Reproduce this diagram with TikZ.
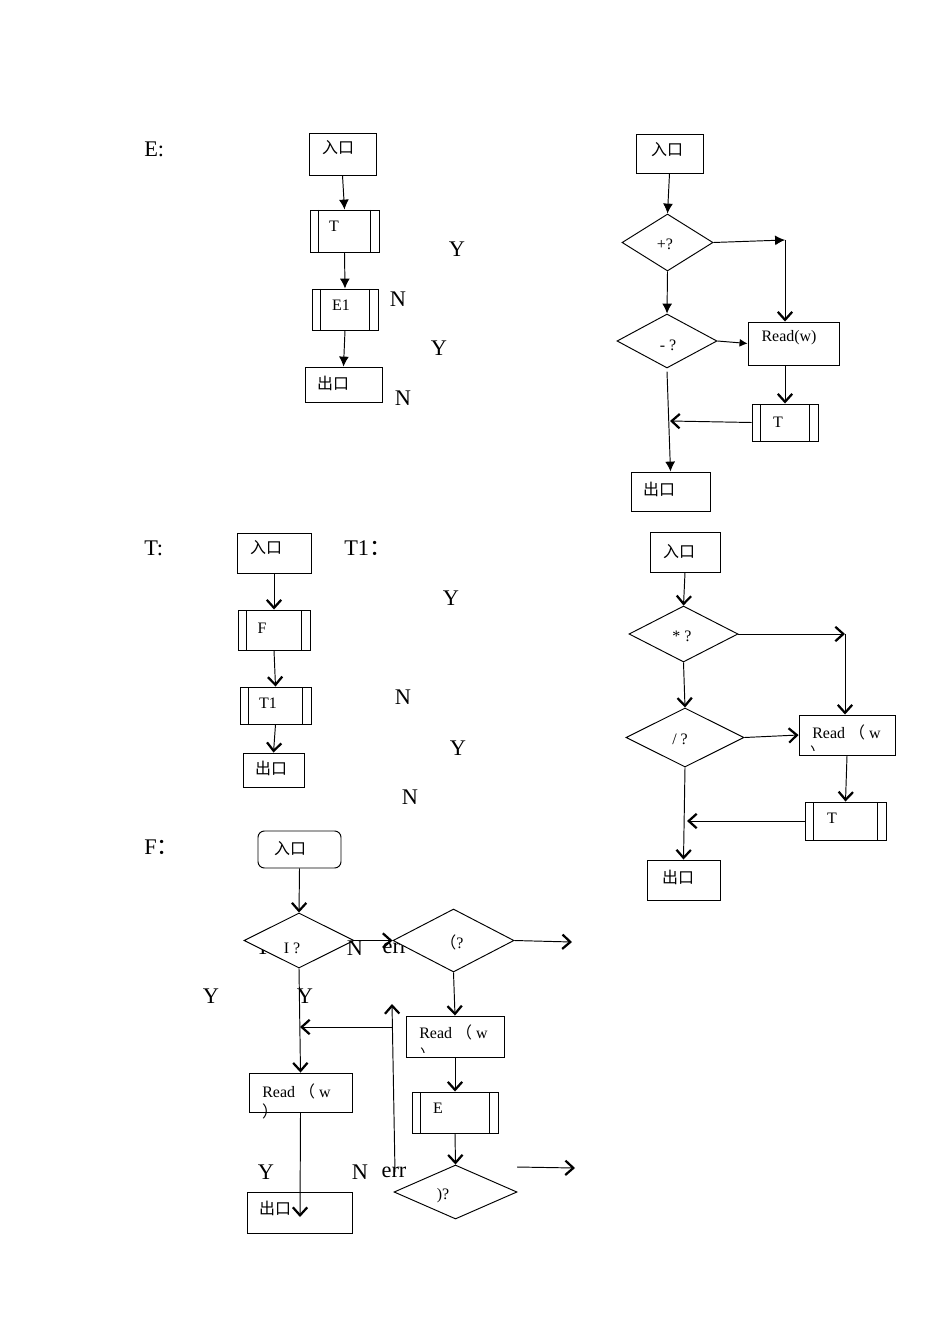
\documentclass[tikz,border=0pt]{standalone}
\usepackage{fontspec}
\setmainfont{Liberation Serif}
\newfontfamily\cjk{Noto Sans CJK SC}
\usetikzlibrary{arrows.meta,shapes.geometric,fit}
\tikzset{
  bx/.style={draw, line width=0.6pt, inner sep=0pt, fill=white},
  subbox/.style={bx, path picture={\draw[line width=0.6pt]
     ([xshift=5.3pt]path picture bounding box.north west) -- ([xshift=5.3pt]path picture bounding box.south west)
     ([xshift=-5.3pt]path picture bounding box.north east) -- ([xshift=-5.3pt]path picture bounding box.south east);}},
  dia/.style 2 args={diamond, draw, line width=0.6pt, fill=white, inner sep=0pt,
     minimum width=#1*0.6265pt, minimum height=#2*0.6265pt},
  txt/.style={inner sep=0pt, font=\fontsize{10}{12}\selectfont},
  big/.style={inner sep=0pt, font=\fontsize{14}{16}\selectfont},
  fa/.style={-{Latex[length=6.2pt,width=6.2pt]}, line width=0.6pt},
  oa/.style={-{Straight Barb[length=5pt,width=9pt,line width=1.4pt]}, line width=0.6pt},
}
\begin{document}
\begin{tikzpicture}[x=0.6265pt, y=-0.6265pt]
\useasboundingbox (0,0) rectangle (950,1344);
\fill[white] (0,0) rectangle (950,1344);

% ---------- free labels (drawn first, shapes may cover them) ----------
\node[big, anchor=west] (lE) at (144,149) {E:};
\node[big] (lE1) at (457,249) {Y};
\node[big] (lE2) at (398,299) {N};
\node[big] (lE3) at (439,348) {Y};
\node[big] (lE4) at (403,398) {N};

\node[big, anchor=west] (lT) at (144,548) {T:};
\node[big, anchor=west] (lT1) at (344,548) {T1{\cjk ：}};
\node[big] (lT1a) at (451,598) {Y};
\node[big] (lT1b) at (403,697) {N};
\node[big] (lT1c) at (458,748) {Y};
\node[big] (lT1d) at (410,797) {N};

\node[big, anchor=west] (lF) at (144,847) {F{\cjk ：}};
\node[big] (lFy0) at (263,947) {Y};
\node[big] (lFerr1) at (395,948) {err};
\node[big] (lFy1) at (211,996) {Y};
\node[big] (lFy2) at (305,996) {Y};
\node[big] (lFy3) at (266,1172) {Y};
\node[big] (lFn2) at (360,1172) {N};
\node[big] (lFerr2) at (394,1172) {err};

% ---------- chart E ----------
\node[bx, fit={(309,133) (376,175)}] (ein) {};
\node[subbox, fit={(310,210) (379,252)}] (et) {};
\node[subbox, fit={(312,289) (378,330)}] (ee1) {};
\node[bx, fit={(305,367) (382,402)}] (eout) {};
\node[txt] (eint) at (338,148) {\cjk 入口};
\node[txt] (ett) at (334,226) {T};
\node[txt] (ee1t) at (341,305) {E1};
\node[txt] (eoutt) at (333,383) {\cjk 出口};
\draw[fa] (ein.south) -- (et.north);
\draw[fa] (et.south) -- (ee1.north);
\draw[fa] (ee1.south) -- (eout.north);

% ---------- chart E1 ----------
\node[bx, fit={(636,134) (703,173)}] (e1in) {};
\node[dia={91}{57}] (dplus) at (667.5,242.5) {};
\node[dia={100}{54}] (dminus) at (667,341) {};
\node[bx, fit={(748,322) (839,365)}] (rd) {};
\node[subbox, fit={(752,404) (818,441)}] (e1t) {};
\node[bx, fit={(631,472) (710,511)}] (e1out) {};
\node[txt] (e1int) at (667,150) {\cjk 入口};
\node[txt] (dplust) at (665,244) {+?};
\node[txt] (dminust) at (668,345) {- ?};
\node[txt] (rdt) at (789,338) {Read(w)};
\node[txt] (e1tt) at (778,422) {T};
\node[txt] (e1outt) at (659,489) {\cjk 出口};
\coordinate (c1) at (785,240);
\coordinate (c2) at (670,421);
\draw[fa] (e1in.south) -- (dplus.north);
\draw[fa] (dplus.east) -- (c1);
\draw[oa] (c1) -- (c1 |- rd.north);
\draw[fa] (dplus.south) -- (dminus.north);
\draw[-{Latex[length=5pt,width=5pt]}, line width=0.6pt] (dminus.east) -- (rd.west);
\draw[oa] (e1t.north |- rd.south) -- (e1t.north);
\draw[oa] (e1t.west) -- (c2);
\draw[fa] ([yshift=-2pt]dminus.south) -- (e1out.north);

% ---------- chart T ----------
\node[bx, fit={(237,533) (311,573)}] (tin) {};
\node[subbox, fit={(238,610) (310,650)}] (tf) {};
\node[subbox, fit={(240,687) (311,724)}] (tt1) {};
\node[bx, fit={(243,753) (304,787)}] (tout) {};
\node[txt] (tint) at (266,548) {\cjk 入口};
\node[txt] (tft) at (262,628) {F};
\node[txt] (tt1t) at (268,703) {T1};
\node[txt] (toutt) at (271,768) {\cjk 出口};
\draw[oa] (tin.south) -- (tf.north);
\draw[oa] (tf.south) -- (tt1.north);
\draw[oa] (tt1.south) -- (tout.north);

% ---------- chart T1 ----------
\node[bx, fit={(650,532) (720,572)}] (t1in) {};
\node[dia={109}{56}] (dstar) at (683.5,634) {};
\node[dia={118}{59}] (dslash) at (685,737.5) {};
\node[bx, fit={(799,715) (895,755)}] (t1rd) {};
\node[subbox, fit={(805,802) (886,840)}] (t1t) {};
\node[bx, fit={(647,860) (720,900)}] (t1out) {};
\node[txt] (t1int) at (679,552) {\cjk 入口};
\node[txt] (dstart) at (682,636) {* ?};
\node[txt] (dslasht) at (680,739) {/ ?};
\node[txt, anchor=west] (t1rdt) at (812,732) {Read {\cjk （} w};
\begin{scope}
  \clip (799,715) rectangle (895,750);
  \node[txt] (t1rdt2) at (818,753) {\cjk ）};
\end{scope}
\node[txt] (t1tt) at (832,818) {T};
\node[txt] (t1outt) at (678,877) {\cjk 出口};
\coordinate (c3) at (845,634);
\coordinate (c4) at (687,821);
\draw[oa] (t1in.south) -- (dstar.north);
\draw[oa] (dstar.east) -- (c3);
\draw[oa] (c3) -- (c3 |- t1rd.north);
\draw[oa] (dstar.south) -- (dslash.north);
\draw[oa] (dslash.east) -- (t1rd.west);
\draw[oa] (t1rd.south) -- (t1t.north);
\draw[oa] (t1t.west) -- (c4);
\draw[oa] (dslash.south) -- (t1out.north);

% ---------- chart F ----------
\node[bx, rounded corners=4pt, fit={(258,831) (341,868)}] (fin) {};
\node[dia={110}{55}] (di) at (299,940.5) {};
\node[dia={121}{63}] (dp) at (453.5,940.5) {};
\node[bx, fit={(406,1016) (504,1057)}] (frd2) {};
\node[subbox, fit={(412,1092) (498,1133)}] (fe) {};
\node[dia={123}{54}] (dr) at (455.5,1192) {};
\node[bx, fit={(249,1073) (352,1112)}] (frd1) {};
\node[bx, fit={(247,1192) (352,1233)}] (fout) {};
\node[big] (lFn1) at (355,948) {N};
\node[txt] (fint) at (290,849) {\cjk 入口};
\node[txt] (dit) at (292,948) {I ?};
\node[txt] (dpt) at (452,942) {{\cjk （}?};
\node[txt, anchor=west] (frd2t) at (419,1032) {Read {\cjk （} w};
\begin{scope}
  \clip (406,1016) rectangle (504,1052);
  \node[txt] (frd2t2) at (428,1055) {\cjk ）};
\end{scope}
\node[txt] (fet) at (438,1108) {E};
\node[txt] (drt) at (443,1196) {)?};
\node[txt, anchor=west] (frd1t) at (262,1091) {Read {\cjk （} w};
\node[txt] (frd1t2) at (270,1111) {\cjk ）};
\node[txt] (foutt) at (275,1208) {\cjk 出口};
\coordinate (c5) at (572,942);
\coordinate (c6) at (392,1027);
\coordinate (c7) at (300,1027);
\coordinate (c8) at (395,1172);
\coordinate (c9) at (392,1004);
\coordinate (c10) at (517,1167);
\coordinate (c11) at (575,1168);
\coordinate (c12) at (300,1217);
\draw[oa] (fin.south) -- (di.north);
\draw[oa] (di.east) -- (dp.west);
\draw[oa] (dp.east) -- (c5);
\draw[oa] (dp.south) -- (frd2.north);
\draw[oa] (di.south) -- (frd1.north);
\draw[oa] (c6) -- (c7);
\draw[oa] (c8) -- (c9);
\draw[oa] (frd2.south) -- (fe.north);
\draw[oa] (fe.south) -- (dr.north);
\draw[oa] (c10) -- (c11);
\draw[oa] (frd1.south) -- (c12);
\end{tikzpicture}
\end{document}
